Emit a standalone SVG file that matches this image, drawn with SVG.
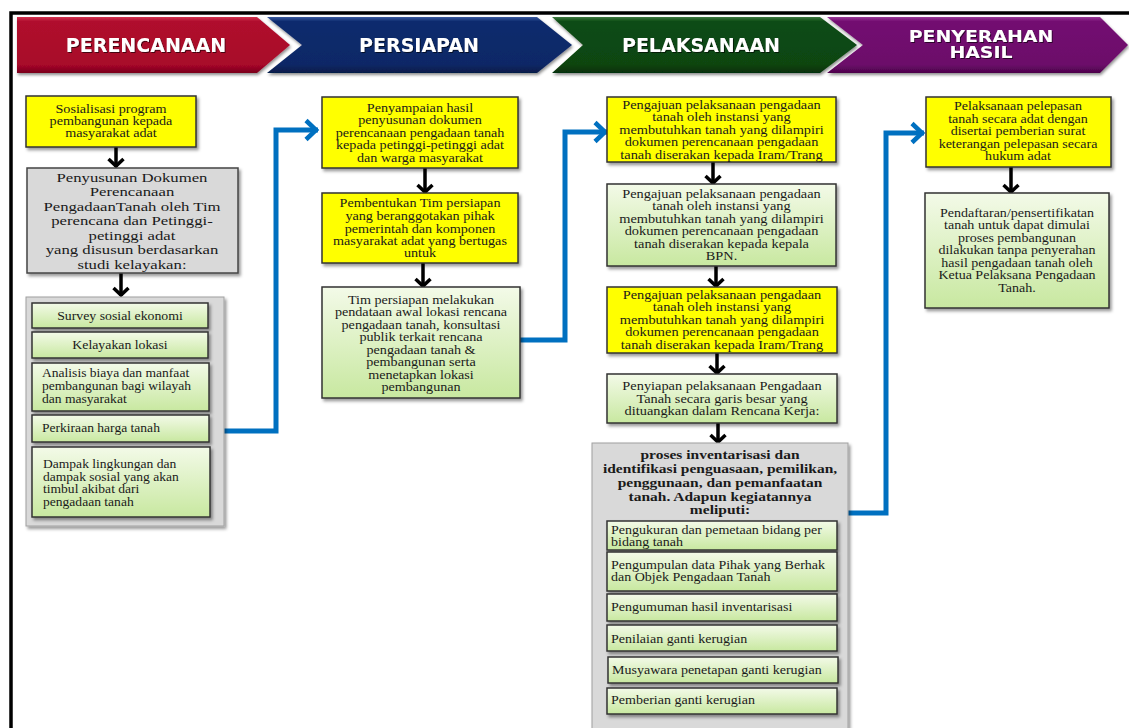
<svg xmlns="http://www.w3.org/2000/svg" width="1129" height="728" viewBox="0 0 1129 728">
<defs>
<style>
.t{font-family:"Liberation Serif","Times New Roman",serif;font-size:11.5px;fill:#1a1a1a}
.tl{font-family:"Liberation Serif","Times New Roman",serif;font-size:13.5px;fill:#1a1a1a}
.tb{font-family:"Liberation Serif","Times New Roman",serif;font-size:12.5px;font-weight:bold;fill:#1a1a1a}
.h{font-family:"DejaVu Sans",Verdana,sans-serif;font-weight:bold;font-size:19px;fill:#fff}
.h2{font-family:"DejaVu Sans",Verdana,sans-serif;font-weight:bold;font-size:15.5px;fill:#fff}
.yel{fill:#FFFF00;stroke:#333;stroke-width:1.5}
.grn{fill:url(#gg);stroke:#333;stroke-width:1.5}
.gry{fill:#D9D9D9;stroke:#444;stroke-width:1.5}
.cont{fill:#D9D9D9;stroke:#A0A0A0;stroke-width:1}
.ba{fill:none;stroke:#000;stroke-width:3.5;marker-end:url(#ah)}
.bl{fill:none;stroke:#0070C0;stroke-width:5;stroke-linejoin:miter;marker-end:url(#bh)}
</style>
<linearGradient id="gg" x1="0" y1="0" x2="0" y2="1"><stop offset="0" stop-color="#F3FAE8"/><stop offset="1" stop-color="#C8E8A0"/></linearGradient>
<linearGradient id="gr" x1="0" y1="0" x2="0" y2="1"><stop offset="0" stop-color="#D2324F"/><stop offset="0.08" stop-color="#B00A2D"/><stop offset="0.85" stop-color="#A8072A"/><stop offset="1" stop-color="#7A041C"/></linearGradient>
<linearGradient id="gb" x1="0" y1="0" x2="0" y2="1"><stop offset="0" stop-color="#3A5AA0"/><stop offset="0.08" stop-color="#0F2B6E"/><stop offset="0.85" stop-color="#0C2866"/><stop offset="1" stop-color="#061A48"/></linearGradient>
<linearGradient id="gn" x1="0" y1="0" x2="0" y2="1"><stop offset="0" stop-color="#3E7A40"/><stop offset="0.08" stop-color="#0E4C14"/><stop offset="0.85" stop-color="#0B4511"/><stop offset="1" stop-color="#063008"/></linearGradient>
<linearGradient id="gp" x1="0" y1="0" x2="0" y2="1"><stop offset="0" stop-color="#9A3A98"/><stop offset="0.08" stop-color="#730B71"/><stop offset="0.85" stop-color="#6C0A6A"/><stop offset="1" stop-color="#4C044A"/></linearGradient>
<filter id="sh" x="-10%" y="-10%" width="130%" height="140%"><feDropShadow dx="2" dy="2.5" stdDeviation="1.5" flood-color="#000" flood-opacity="0.4"/></filter>
<filter id="hs" x="-5%" y="-10%" width="110%" height="130%"><feDropShadow dx="1" dy="2" stdDeviation="1.5" flood-color="#000" flood-opacity="0.45"/></filter>
<filter id="ts"><feDropShadow dx="1" dy="1" stdDeviation="0.6" flood-color="#000" flood-opacity="0.6"/></filter>
<marker id="ah" markerUnits="userSpaceOnUse" viewBox="-12 -10 14 20" markerWidth="14" markerHeight="20" refX="0" refY="0" orient="auto"><path d="M-8,-7.5 L-1,0 L-8,7.5" fill="none" stroke="#000" stroke-width="3.5"/></marker>
<marker id="bh" markerUnits="userSpaceOnUse" viewBox="-16 -13 19 26" markerWidth="19" markerHeight="26" refX="0" refY="0" orient="auto"><path d="M-12,-9.5 L-2,0 L-12,9.5" fill="none" stroke="#0070C0" stroke-width="4.5"/></marker>
</defs>
<rect width="1129" height="728" fill="#fff"/>
<path d="M11,728 V13 H1129" fill="none" stroke="#000" stroke-width="3.5"/>

<g id="header">
<g filter="url(#hs)">
<polygon points="17,17 257,17 290,45 257,73 17,73" fill="url(#gr)"/>
<polygon points="267,17 537,17 572,45 537,73 267,73 302,45" fill="url(#gb)"/>
<polygon points="552,17 820,17 857,45 820,73 552,73 583,45" fill="url(#gn)"/>
<polygon points="827,17 1100,17 1128,45 1100,73 827,73 863,45" fill="url(#gp)"/>
</g>
<g filter="url(#ts)">
<text class="h" x="146" y="52" text-anchor="middle">PERENCANAAN</text>
<text class="h" x="419" y="52" text-anchor="middle">PERSIAPAN</text>
<text class="h" x="701" y="52" text-anchor="middle">PELAKSANAAN</text>
<g transform="translate(981 0) scale(1.22 1)"><text class="h2" text-anchor="middle"><tspan x="0" y="42">PENYERAHAN</tspan><tspan x="0" y="58">HASIL</tspan></text></g>
</g>
</g>

<g id="connectors">
<path class="ba" d="M116,147 V167"/>
<path class="ba" d="M121,273 V296"/>
<path class="ba" d="M425,168 V193"/>
<path class="ba" d="M423,263 V287"/>
<path class="ba" d="M713,162 V184"/>
<path class="ba" d="M716,266 V287"/>
<path class="ba" d="M717,353 V374"/>
<path class="ba" d="M718,423 V443"/>
<path class="ba" d="M1011,167 V193"/>
<path class="bl" d="M224,431 H276 V130 H318"/>
<path class="bl" d="M520,340 H565 V132 H607"/>
<path class="bl" d="M848,513 H886 V133 H924"/>
</g>

<g id="n1">
<rect class="yel" x="26" y="96" width="170" height="51" filter="url(#sh)"/>
<g transform="translate(111 0) scale(1.23 1)"><text class="t" text-anchor="middle"><tspan x="0" y="113">Sosialisasi program</tspan><tspan x="0" y="125">pembangunan  kepada</tspan><tspan x="0" y="137">masyarakat  adat</tspan></text></g>
</g>
<g id="n2">
<rect class="gry" x="27" y="168" width="211" height="105" filter="url(#sh)"/>
<g transform="translate(132 0) scale(1.24 1)"><text class="tl" text-anchor="middle"><tspan x="0" y="182">Penyusunan Dokumen</tspan><tspan x="0" y="196.5">Perencanaan</tspan><tspan x="0" y="211">PengadaanTanah oleh Tim</tspan><tspan x="0" y="225.5">perencana dan Petinggi-</tspan><tspan x="0" y="240">petinggi  adat</tspan><tspan x="0" y="254.5">yang disusun berdasarkan</tspan><tspan x="0" y="269">studi kelayakan:</tspan></text></g>
</g>
<g id="n3">
<rect class="cont" x="26" y="297" width="198" height="229" filter="url(#sh)"/>
<rect class="grn" x="32" y="303" width="176" height="25" filter="url(#sh)"/>
<g transform="translate(120 0) scale(1.2 1)"><text class="t" x="0" y="320" text-anchor="middle">Survey  sosial  ekonomi</text></g>
<rect class="grn" x="32" y="332" width="176" height="26" filter="url(#sh)"/>
<g transform="translate(120 0) scale(1.2 1)"><text class="t" x="0" y="349" text-anchor="middle">Kelayakan  lokasi</text></g>
<rect class="grn" x="32" y="363" width="177" height="48" filter="url(#sh)"/>
<g transform="translate(42 0) scale(1.18 1)"><text class="t"><tspan x="0" y="377">Analisis  biaya  dan  manfaat</tspan><tspan x="0" y="390">pembangunan  bagi  wilayah</tspan><tspan x="0" y="403">dan  masyarakat</tspan></text></g>
<rect class="grn" x="32" y="415" width="177" height="27" filter="url(#sh)"/>
<g transform="translate(42 0) scale(1.18 1)"><text class="t" x="0" y="432">Perkiraan  harga  tanah</text></g>
<rect class="grn" x="32" y="447" width="178" height="70" filter="url(#sh)"/>
<g transform="translate(43 0) scale(1.18 1)"><text class="t"><tspan x="0" y="468">Dampak  lingkungan  dan</tspan><tspan x="0" y="481">dampak  sosial  yang  akan</tspan><tspan x="0" y="493">timbul  akibat  dari</tspan><tspan x="0" y="506">pengadaan  tanah</tspan></text></g>
</g>

<g id="n4">
<rect class="yel" x="322" y="97" width="196" height="71" filter="url(#sh)"/>
<g transform="translate(420 0) scale(1.23 1)"><text class="t" text-anchor="middle"><tspan x="0" y="112">Penyampaian hasil</tspan><tspan x="0" y="124.5">penyusunan dokumen</tspan><tspan x="0" y="137">perencanaan pengadaan tanah</tspan><tspan x="0" y="149.5">kepada petinggi-petinggi adat</tspan><tspan x="0" y="162">dan warga masyarakat</tspan></text></g>
</g>
<g id="n5">
<rect class="yel" x="322" y="193" width="196" height="70" filter="url(#sh)"/>
<g transform="translate(420 0) scale(1.23 1)"><text class="t" text-anchor="middle"><tspan x="0" y="207">Pembentukan Tim persiapan</tspan><tspan x="0" y="220">yang beranggotakan pihak</tspan><tspan x="0" y="233">pemerintah dan komponen</tspan><tspan x="0" y="245.5">masyarakat adat yang bertugas</tspan><tspan x="0" y="257.5">untuk</tspan></text></g>
</g>
<g id="n6">
<rect class="grn" x="322" y="287" width="198" height="111" filter="url(#sh)"/>
<g transform="translate(421 0) scale(1.23 1)"><text class="t" text-anchor="middle"><tspan x="0" y="304">Tim persiapan melakukan</tspan><tspan x="0" y="316.5">pendataan awal lokasi rencana</tspan><tspan x="0" y="329">pengadaan tanah, konsultasi</tspan><tspan x="0" y="341">publik terkait rencana</tspan><tspan x="0" y="354">pengadaan tanah &amp;</tspan><tspan x="0" y="366">pembangunan serta</tspan><tspan x="0" y="379">menetapkan lokasi</tspan><tspan x="0" y="391">pembangunan</tspan></text></g>
</g>

<g id="n7">
<rect class="yel" x="607" y="97" width="229" height="65" filter="url(#sh)"/>
<g transform="translate(721.5 0) scale(1.25 1)"><text class="t" text-anchor="middle"><tspan x="0" y="109">Pengajuan pelaksanaan pengadaan</tspan><tspan x="0" y="121">tanah oleh instansi yang</tspan><tspan x="0" y="134">membutuhkan tanah yang dilampiri</tspan><tspan x="0" y="146">dokumen perencanaan pengadaan</tspan><tspan x="0" y="159">tanah diserakan kepada Iram/Trang</tspan></text></g>
</g>
<g id="n8">
<rect class="grn" x="607" y="184" width="229" height="82" filter="url(#sh)"/>
<g transform="translate(721.5 0) scale(1.25 1)"><text class="t" text-anchor="middle"><tspan x="0" y="198">Pengajuan pelaksanaan pengadaan</tspan><tspan x="0" y="210.5">tanah oleh instansi yang</tspan><tspan x="0" y="223">membutuhkan tanah yang dilampiri</tspan><tspan x="0" y="235.5">dokumen perencanaan pengadaan</tspan><tspan x="0" y="248">tanah diserakan kepada kepala</tspan><tspan x="0" y="260.5">BPN.</tspan></text></g>
</g>
<g id="n9">
<rect class="yel" x="607" y="287" width="230" height="66" filter="url(#sh)"/>
<g transform="translate(722 0) scale(1.25 1)"><text class="t" text-anchor="middle"><tspan x="0" y="299">Pengajuan pelaksanaan pengadaan</tspan><tspan x="0" y="311">tanah oleh instansi yang</tspan><tspan x="0" y="324">membutuhkan tanah yang dilampiri</tspan><tspan x="0" y="336">dokumen perencanaan pengadaan</tspan><tspan x="0" y="349">tanah diserakan kepada Iram/Trang</tspan></text></g>
</g>
<g id="n10">
<rect class="grn" x="607" y="374" width="230" height="49" filter="url(#sh)"/>
<g transform="translate(722 0) scale(1.25 1)"><text class="t" text-anchor="middle"><tspan x="0" y="390.5">Penyiapan pelaksanaan Pengadaan</tspan><tspan x="0" y="403">Tanah secara garis besar yang</tspan><tspan x="0" y="415.5">dituangkan dalam Rencana Kerja:</tspan></text></g>
</g>
<g id="n11">
<rect class="cont" x="592" y="443" width="256" height="300" filter="url(#sh)"/>
<g transform="translate(720 0) scale(1.24 1)"><text class="tb" text-anchor="middle"><tspan x="0" y="459">proses inventarisasi  dan</tspan><tspan x="0" y="473">identifikasi  penguasaan, pemilikan,</tspan><tspan x="0" y="487">penggunaan, dan pemanfaatan</tspan><tspan x="0" y="501">tanah. Adapun kegiatannya</tspan><tspan x="0" y="514">meliputi:</tspan></text></g>
<rect class="grn" x="607" y="521" width="230" height="29" filter="url(#sh)"/>
<g transform="translate(611 0) scale(1.22 1)"><text class="t"><tspan x="0" y="534">Pengukuran dan pemetaan bidang per</tspan><tspan x="0" y="546">bidang tanah</tspan></text></g>
<rect class="grn" x="607" y="552" width="230" height="39" filter="url(#sh)"/>
<g transform="translate(611 0) scale(1.22 1)"><text class="t"><tspan x="0" y="569">Pengumpulan data Pihak yang Berhak</tspan><tspan x="0" y="581">dan Objek Pengadaan Tanah</tspan></text></g>
<rect class="grn" x="607" y="594" width="230" height="27" filter="url(#sh)"/>
<g transform="translate(611 0) scale(1.22 1)"><text class="t" x="0" y="611.5">Pengumuman hasil inventarisasi</text></g>
<rect class="grn" x="607" y="625" width="230" height="26" filter="url(#sh)"/>
<g transform="translate(611 0) scale(1.22 1)"><text class="t" x="0" y="643">Penilaian ganti kerugian</text></g>
<rect class="grn" x="608" y="657" width="230" height="26" filter="url(#sh)"/>
<g transform="translate(612 0) scale(1.22 1)"><text class="t" x="0" y="674">Musyawara penetapan ganti kerugian</text></g>
<rect class="grn" x="607" y="688" width="230" height="26" filter="url(#sh)"/>
<g transform="translate(611 0) scale(1.22 1)"><text class="t" x="0" y="704.5">Pemberian ganti kerugian</text></g>
</g>

<g id="n12">
<rect class="yel" x="926" y="97" width="185" height="70" filter="url(#sh)"/>
<g transform="translate(1018 0) scale(1.22 1)"><text class="t" text-anchor="middle"><tspan x="0" y="110.5">Pelaksanaan pelepasan</tspan><tspan x="0" y="123">tanah secara adat dengan</tspan><tspan x="0" y="135.5">disertai pemberian surat</tspan><tspan x="0" y="148">keterangan pelepasan secara</tspan><tspan x="0" y="160.5">hukum adat</tspan></text></g>
</g>
<g id="n13">
<rect class="grn" x="925" y="193" width="184" height="115" filter="url(#sh)"/>
<g transform="translate(1017 0) scale(1.22 1)"><text class="t" text-anchor="middle"><tspan x="0" y="217">Pendaftaran/pensertifikatan</tspan><tspan x="0" y="229.5">tanah untuk dapat dimulai</tspan><tspan x="0" y="242">proses pembangunan</tspan><tspan x="0" y="254.5">dilakukan tanpa penyerahan</tspan><tspan x="0" y="267">hasil pengadaan tanah oleh</tspan><tspan x="0" y="279.5">Ketua Pelaksana Pengadaan</tspan><tspan x="0" y="292">Tanah.</tspan></text></g>
</g>
</svg>
